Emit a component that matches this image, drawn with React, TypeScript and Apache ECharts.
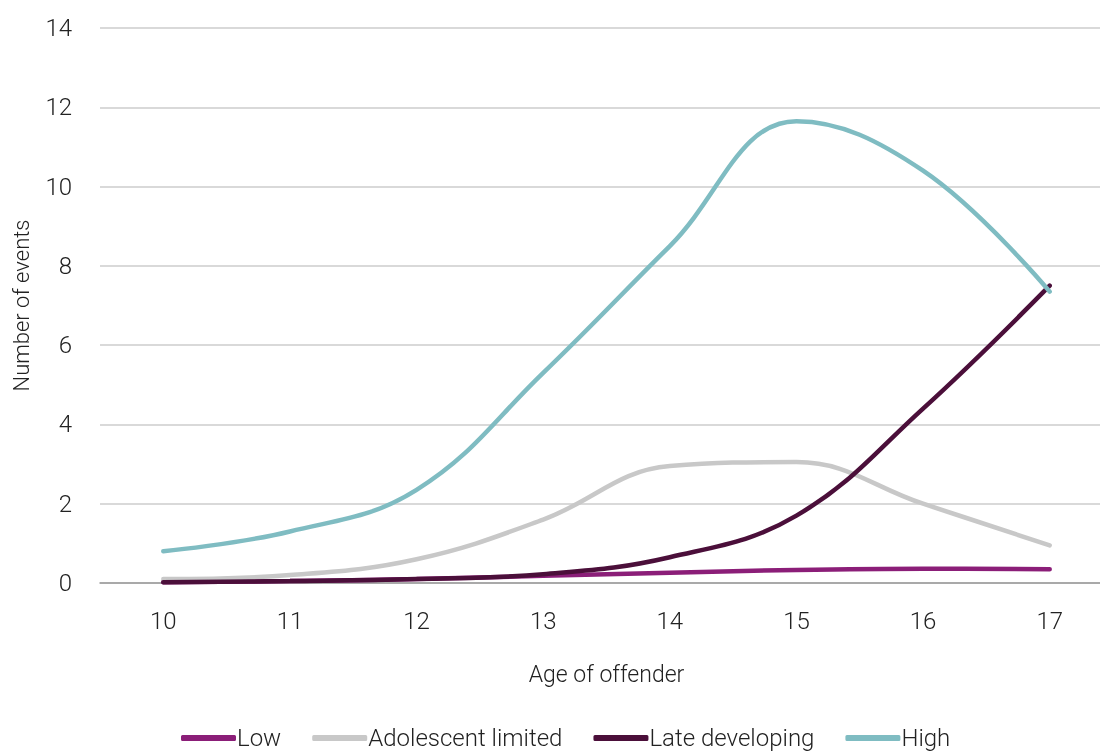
import React, { useEffect, useRef } from "react";
import * as echarts from "echarts";

const ages = ["10", "11", "12", "13", "14", "15", "16", "17"];
const low = [0.02, 0.05, 0.1, 0.18, 0.26, 0.33, 0.36, 0.35];
const adolescentLimited = [0.1, 0.2, 0.6, 1.6, 2.95, 3.05, 2.0, 0.95];
const lateDeveloping = [0.02, 0.05, 0.1, 0.22, 0.65, 1.7, 4.4, 7.5];
const high = [0.8, 1.3, 2.35, 5.3, 8.5, 11.65, 10.4, 7.35];

const FONT = "Roboto, 'Liberation Sans Narrow', sans-serif";

export default function App() {
  const ref = useRef<HTMLDivElement>(null);
  useEffect(() => {
    const chart = echarts.init(ref.current!, undefined, { renderer: "svg" });
    const mk = (name: string, data: number[], color: string) => ({
      name,
      type: "line",
      data,
      smooth: 0.4,
      showSymbol: false,
      symbol: "none",
      lineStyle: { color, width: 4.5, cap: "round" },
      itemStyle: { color },
    });
    chart.setOption({
      animation: false,
      textStyle: { fontFamily: FONT, color: "#222" },
      grid: { left: 100, top: 28, width: 1013, height: 555, outerBoundsMode: "none", containLabel: false },
      legend: {
        bottom: -4,
        left: 176,
        itemWidth: 55,
        itemHeight: 6,
        itemGap: 31,
        icon: "roundRect",
        textStyle: { fontFamily: FONT, fontSize: 24, fontWeight: 300, color: "#222", padding: [0, 0, 0, -4] },
        data: ["Low", "Adolescent limited", "Late developing", "High"],
      },
      xAxis: {
        type: "category",
        data: ages,
        boundaryGap: true,
        name: "Age of offender",
        nameLocation: "middle",
        nameGap: 80,
        nameTextStyle: { fontFamily: FONT, fontSize: 23, fontWeight: 300, color: "#222" },
        axisLine: { lineStyle: { color: "#999", width: 1.5 } },
        axisTick: { show: false },
        axisLabel: { fontFamily: FONT, fontSize: 24, fontWeight: 300, color: "#222", margin: 26 },
      },
      yAxis: {
        type: "value",
        min: 0,
        max: 14,
        interval: 2,
        name: "Number of events",
        nameLocation: "middle",
        nameGap: 68,
        nameTextStyle: { fontFamily: FONT, fontSize: 22, fontWeight: 300, color: "#222" },
        axisLine: { show: false },
        axisTick: { show: false },
        axisLabel: { fontFamily: FONT, fontSize: 24, fontWeight: 300, color: "#222", margin: 28 },
        splitLine: { lineStyle: { color: "#D9D9D9", width: 2 } },
      },
      series: [
        mk("Low", low, "#8B1E78"),
        mk("Adolescent limited", adolescentLimited, "#C8C8C8"),
        mk("Late developing", lateDeveloping, "#4B0F3A"),
        mk("High", high, "#7FBCC2"),
      ],
    });
    return () => chart.dispose();
  }, []);
  return (
    <div
      ref={ref}
      style={{ position: "fixed", left: 0, top: 0, width: 1100, height: 751 }}
    />
  );
}
